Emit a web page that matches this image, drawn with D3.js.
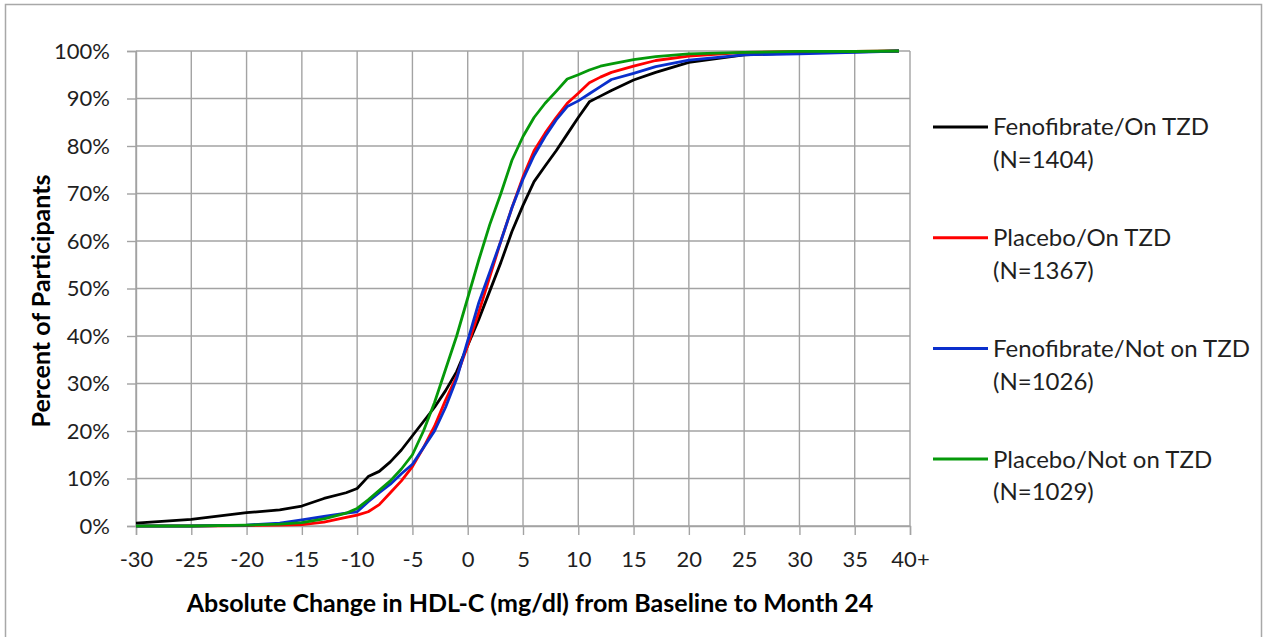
<!DOCTYPE html>
<html>
<head>
<meta charset="utf-8">
<script src="https://cdn.jsdelivr.net/npm/d3@7"></script>
<style>
  body { margin: 0; background: #fff; }
  svg { display: block; font-family: Lato, "Open Sans", sans-serif; }
</style>
</head>
<body>
<div id="chart"></div>
<script>
"use strict";

// x positions (mg/dl change) at which the cumulative curves were read
const changes = [-30, -25, -20, -17, -15, -13, -11, -10, -9, -8, -7, -6, -5, -4, -3, -2, -1,
  0, 1, 2, 3, 4, 5, 6, 7, 8, 9, 10, 11, 12, 13, 15, 17, 20, 25, 30, 35, 39];

const fenoOnTzd = [0.6, 1.4, 2.8, 3.4, 4.2, 5.8, 7.0, 7.9, 10.4, 11.5, 13.5, 16, 19, 22, 25, 28.5, 32.5,
  38, 43.5, 49.5, 55.5, 62, 67.5, 72.5, 75.8, 79, 82.5, 86, 89.3, 90.5, 91.7, 93.9, 95.5, 97.6, 99.2, 99.6, 99.8, 100];

const placeboOnTzd = [0, 0, 0.1, 0.2, 0.3, 0.8, 1.8, 2.3, 3, 4.5, 7, 9.5, 12.5, 16.5, 21, 26.5, 31.5,
  38, 45, 52.5, 60, 67, 73.5, 79, 82.7, 86, 89, 91.1, 93.3, 94.5, 95.5, 96.8, 98, 98.9, 99.7, 99.9, 99.9, 100];

const fenoNotTzd = [0, 0, 0.2, 0.6, 1.3, 2, 2.7, 3, 5.1, 7, 8.8, 11, 13, 16.5, 20, 25, 31,
  39, 47, 53.5, 60, 67, 73, 78, 82, 85.5, 88.3, 89.5, 91, 92.5, 94, 95.3, 96.7, 98.1, 99.2, 99.4, 99.7, 100];

const placeboNotTzd = [0, 0, 0.2, 0.4, 0.7, 1.5, 2.7, 3.7, 5.5, 7.5, 9.5, 12, 15, 20, 26, 33, 40,
  48, 56, 63.5, 70, 77, 82, 86, 89, 91.5, 94.1, 95, 96, 96.8, 97.3, 98.2, 98.8, 99.4, 99.7, 99.9, 99.9, 100];

const seriesNames = ['Fenofibrate/On TZD', 'Placebo/On TZD', 'Fenofibrate/Not on TZD', 'Placebo/Not on TZD'];
const seriesCounts = ['(N=1404)', '(N=1367)', '(N=1026)', '(N=1029)'];
const seriesColors = ['#000000', '#ff0000', '#0a2fcc', '#05990a'];
const seriesValues = [fenoOnTzd, placeboOnTzd, fenoNotTzd, placeboNotTzd];

const xTicks = [-30, -25, -20, -15, -10, -5, 0, 5, 10, 15, 20, 25, 30, 35, 40];
const yTicks = [0, 10, 20, 30, 40, 50, 60, 70, 80, 90, 100];

const width = 1263, height = 637;
const GRID = '#a3a3a3', TEXT = '#1f1f1f';

const svg = d3.select('#chart').append('svg')
    .attr('width', width)
    .attr('height', height)

// outer frame
svg.append('rect')
  .attr('x', 5.5).attr('y', 4.5)
  .attr('width', 1256).attr('height', 640)
  .attr('fill', 'none')
  .attr('stroke', '#a8a8a8')
  .attr('stroke-width', 1.5)

const xScale = d3.scaleLinear().domain([-30, 40]).range([136, 910]);
const yScale = d3.scaleLinear().domain([0, 100]).range([526, 51]);

/*
 * Grid and axes
 ***/
const yAxis = d3.axisLeft(yScale)
  .tickValues(yTicks)
  .tickSize(9)
  .tickPadding(17)
  .tickFormat(d => d + '%')

const yG = svg.append('g')
  .attr('transform', `translate(${xScale(-30)},0)`)
  .call(yAxis)

const xAxis = d3.axisBottom(xScale)
  .tickValues(xTicks)
  .tickSize(9)
  .tickPadding(12)
  .tickFormat(d => d === 40 ? '40+' : d)

const xG = svg.append('g')
  .attr('transform', `translate(0,${yScale(0)})`)
  .call(xAxis)

svg.append('g').selectAll('line')
  .data(yTicks)
  .join('line')
  .attr('x1', xScale(-30)).attr('x2', xScale(40))
  .attr('y1', d => yScale(d)).attr('y2', d => yScale(d))
  .attr('stroke', GRID)
  .attr('stroke-width', 1.4)

svg.append('g').selectAll('line')
  .data(xTicks)
  .join('line')
  .attr('x1', d => xScale(d)).attr('x2', d => xScale(d))
  .attr('y1', yScale(100)).attr('y2', yScale(0))
  .attr('stroke', GRID)
  .attr('stroke-width', 1.4)

for (const g of [xG, yG]) {
  g.select('.domain').attr('stroke', GRID).attr('stroke-width', 1.4)
  g.selectAll('.tick line').attr('stroke', GRID).attr('stroke-width', 1.4)
  g.selectAll('.tick text')
    .attr('fill', TEXT)
    .style('font-size', '22px')
    .style('font-family', 'Lato, sans-serif')
}
xG.selectAll('.tick text').attr('dy', '0.9em')

/*
 * Cumulative distribution curves
 ***/
const line = d3.line()
  .x((d, i) => xScale(changes[i]))
  .y(d => yScale(d))

svg.append('g').selectAll('path')
  .data(seriesValues)
  .join('path')
  .attr('d', line)
  .attr('fill', 'none')
  .attr('stroke', (d, i) => seriesColors[i])
  .attr('stroke-width', 2.8)
  .attr('stroke-linejoin', 'round')

/*
 * Legend
 ***/
const legend = svg.append('g')
  .selectAll('g')
  .data(seriesNames)
  .join('g')
  .attr('transform', (d, i) => `translate(933,${127 + i * 110.7})`)

legend.append('line')
  .attr('x1', 0).attr('x2', 55)
  .attr('stroke', (d, i) => seriesColors[i])
  .attr('stroke-width', 3)

legend.append('text')
  .attr('x', 60)
  .attr('dy', '0.35em')
  .attr('fill', TEXT)
  .style('font-size', '24px')
  .text(d => d)

legend.append('text')
  .attr('x', 60)
  .attr('y', 33)
  .attr('dy', '0.35em')
  .attr('fill', TEXT)
  .style('font-size', '24px')
  .text((d, i) => seriesCounts[i])

/*
 * Axis titles
 ***/
svg.append('text')
  .attr('x', 530)
  .attr('y', 603)
  .attr('dy', '0.35em')
  .attr('text-anchor', 'middle')
  .attr('fill', '#000')
  .style('font-size', '25px')
  .style('font-weight', 'bold')
  .text('Absolute Change in HDL-C (mg/dl) from Baseline to Month 24')

svg.append('text')
  .attr('transform', 'translate(41,301) rotate(-90)')
  .attr('dy', '0.35em')
  .attr('text-anchor', 'middle')
  .attr('fill', '#000')
  .style('font-size', '25px')
  .style('font-weight', 'bold')
  .text('Percent of Participants')
</script>
</body>
</html>
